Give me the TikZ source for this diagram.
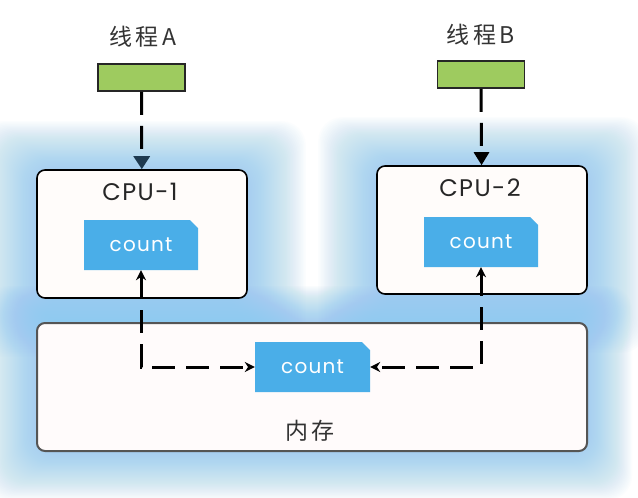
\documentclass[tikz,border=0pt]{standalone}
\usepackage{fontspec}
\setmainfont{Poppins}[LetterSpace=6]
\newfontfamily\cjk{Noto Sans CJK SC}[LetterSpace=15]
\usetikzlibrary{arrows.meta,backgrounds,calc}
\definecolor{greenfill}{HTML}{9ECB5F}
\definecolor{countblue}{HTML}{4AAEE8}
\definecolor{glowblue}{HTML}{8CCAF0}
\definecolor{navy}{HTML}{1E3A50}
\definecolor{memgray}{HTML}{555555}
\begin{document}
\begin{tikzpicture}[x=1pt,y=-1pt,
  thread/.style={draw=black!85,line width=1.8pt,fill=greenfill,minimum width=87pt,minimum height=27pt,inner sep=0pt},
  cpubox/.style={draw=black,line width=1.6pt,fill=white!98!orange,rounded corners=8pt,minimum width=210pt,minimum height=128pt,inner sep=0pt},
  membox/.style={draw=memgray,line width=2pt,fill=white!98.5!red,rounded corners=8pt,minimum width=550pt,minimum height=128pt,inner sep=0pt},
  countbox/.style={minimum width=114pt,minimum height=50pt,inner sep=0pt,text=white,font=\fontsize{20}{20}\selectfont,
    path picture={\fill[countblue] (path picture bounding box.south west) -- (path picture bounding box.south east) -- ([yshift=-8pt]path picture bounding box.north east) -- ([xshift=-8pt]path picture bounding box.north east) -- (path picture bounding box.north west) -- cycle;}},
  label/.style={font=\fontsize{24}{24}\selectfont,text=black!85},
  cjklabel/.style={font=\cjk\fontsize{23}{23}\selectfont,text=black!80},
  dasharrow/.style={line width=3pt,dash pattern=on 23pt off 11pt},
]
\useasboundingbox (0,0) rectangle (638,498);

\node[thread] (ta) at (141.5,77.5) {};
\node[thread] (tb) at (481,74.5) {};
\node[cjklabel] (la) at (143,37) {线程A};
\node[cjklabel] (lb) at (481,35) {线程B};

\node[membox] (mem) at (312,387) {};
\node[cpubox] (cpu1) at (142,234) {};
\node[cpubox] (cpu2) at (482,230) {};

\node[label] (c1l) at (140,192) {CPU-1};
\node[label] (c2l) at (480,188) {CPU-2};
\node[countbox] (cnt1) at (141,245) {count};
\node[countbox] (cnt2) at (481,242) {count};
\node[countbox,minimum width=115pt] (cntm) at (312.5,367) {count};
\node[cjklabel] (meml) at (310,431) {内存};

\draw[dasharrow,-{Triangle[width=16pt,length=13pt,fill=navy,color=navy]}] (ta) -- (cpu1);
\draw[dasharrow,-{Triangle[width=15pt,length=13pt]}] (tb) -- (cpu2);
\draw[dasharrow,{Stealth[width=10pt,length=10pt]}-{Stealth[width=10pt,length=10pt]}] (cnt1.south) |- (cntm.west);
\draw[dasharrow,{Stealth[width=10pt,length=10pt]}-{Stealth[width=10pt,length=10pt]}] (cnt2.south) |- (cntm.east);

\begin{scope}[on background layer]
  \fill[white] (0,0) rectangle (638,498);
  \foreach \i in {1,...,40}{
    \fill[glowblue,opacity=0.026,rounded corners=24pt] ($(mem.north west)+(-\i*1.3,-\i*0.9)$) rectangle ($(mem.south east)+(\i*1.1,\i*1.2)$);
    \fill[glowblue,opacity=0.026,rounded corners=24pt] ($(cpu1.north west)+(-\i*1.45,-\i*1.2)$) rectangle ($(cpu1.south east)+(\i*1.45,\i*1.45)$);
    \fill[glowblue,opacity=0.026,rounded corners=24pt] ($(cpu2.north west)+(-\i*1.45,-\i*1.2)$) rectangle ($(cpu2.south east)+(\i*1.45,\i*1.45)$);
  }
\end{scope}
\end{tikzpicture}
\end{document}
